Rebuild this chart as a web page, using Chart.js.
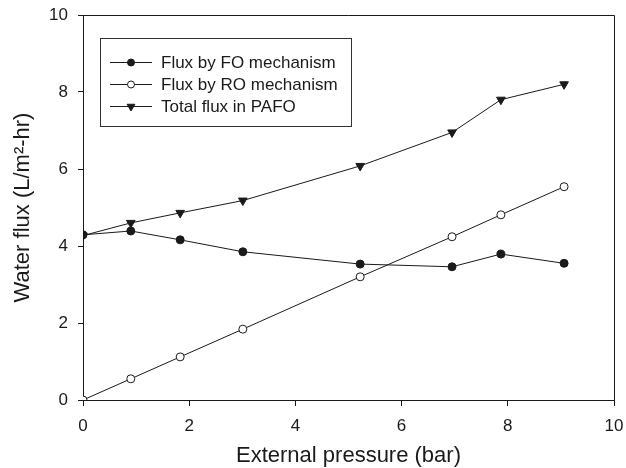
<!DOCTYPE html>
<html>
<head>
<meta charset="utf-8">
<script src="https://cdn.jsdelivr.net/npm/chart.js@4.4.1/dist/chart.umd.min.js"></script>
<style>
  html, body { margin: 0; padding: 0; background: #fff; }
  #wrap { width: 626px; height: 468px; }
</style>
</head>
<body>
<div id="wrap"><canvas id="myChart" width="626" height="468"></canvas></div>
<script>
// pressure (bar) for every series
const pressure = [0, 0.9, 1.83, 3.01, 5.22, 6.95, 7.87, 9.06];
const fluxFO = [4.29, 4.39, 4.16, 3.85, 3.53, 3.46, 3.79, 3.55];
const fluxRO = [0, 0.55, 1.12, 1.84, 3.2, 4.24, 4.81, 5.54];
const fluxTotal = [4.27, 4.6, 4.86, 5.18, 6.08, 6.95, 7.8, 8.2];
const seriesLabels = ['Flux by FO mechanism', 'Flux by RO mechanism', 'Total flux in PAFO'];
const xTicks = [0, 2, 4, 6, 8, 10];
const yTicks = [0, 2, 4, 6, 8, 10];

const ink = '#1a1a1a';
const font = '"Liberation Sans", Arial, Helvetica, sans-serif';

function toPoints(ys) {
    return pressure.map((x, i) => ({ x: x, y: ys[i] }));
}

// frame on top/right + boxed legend
const framePlugin = {
    id: 'frame',
    afterDraw(chart) {
        const ctx = chart.ctx;
        const a = chart.chartArea;
        ctx.save();
        ctx.strokeStyle = ink;
        ctx.lineWidth = 1;
        ctx.beginPath();
        ctx.moveTo(a.left, a.top + 0.5);
        ctx.lineTo(a.right + 0.5, a.top + 0.5);
        ctx.lineTo(a.right + 0.5, a.bottom);
        ctx.stroke();

        // legend box
        ctx.strokeStyle = '#333';
        ctx.strokeRect(100.5, 38.5, 251, 88);
        ctx.font = '17px ' + font;
        ctx.textBaseline = 'middle';
        const rows = [62, 84, 106];
        chart.data.datasets.forEach((ds, i) => {
            const y = rows[i] + 0.5;
            ctx.strokeStyle = ink;
            ctx.lineWidth = 1;
            ctx.beginPath();
            ctx.moveTo(110, y);
            ctx.lineTo(152, y);
            ctx.stroke();
            ctx.fillStyle = ds.pointBackgroundColor;
            Chart.helpers.drawPoint(ctx, {
                pointStyle: ds.pointStyle,
                rotation: ds.pointRotation || 0,
                radius: ds.pointStyle === 'circle' ? 3.5 : 4.5,
                borderWidth: 1
            }, 131, y);
            ctx.fillStyle = ink;
            ctx.fillText(ds.label, 161, y + 1);
        });
        ctx.restore();
    }
};

const ctx = document.getElementById('myChart').getContext('2d');
const myChart = new Chart(ctx, {
    type: 'scatter',
    data: {
        datasets: [{
            label: seriesLabels[0],
            data: toPoints(fluxFO),
            showLine: true,
            borderColor: ink,
            borderWidth: 1,
            pointStyle: 'circle',
            pointRadius: 4,
            pointBackgroundColor: ink,
            pointBorderColor: ink
        }, {
            label: seriesLabels[1],
            data: toPoints(fluxRO),
            showLine: true,
            borderColor: ink,
            borderWidth: 1,
            pointStyle: 'circle',
            pointRadius: 4,
            pointBackgroundColor: '#fff',
            pointBorderColor: ink
        }, {
            label: seriesLabels[2],
            data: toPoints(fluxTotal),
            showLine: true,
            borderColor: ink,
            borderWidth: 1,
            pointStyle: 'triangle',
            pointRotation: 180,
            pointRadius: 5,
            pointBackgroundColor: ink,
            pointBorderColor: ink
        }]
    },
    options: {
        responsive: false,
        animation: false,
        devicePixelRatio: 1,
        layout: { padding: { left: 0, top: 15, right: 12, bottom: 0 } },
        plugins: {
            legend: { display: false },
            tooltip: { enabled: false }
        },
        scales: {
            x: {
                type: 'linear',
                min: 0,
                max: 10,
                afterFit: s => { s.height = 68; s.paddingLeft = 0; s.paddingRight = 0; },
                afterBuildTicks: s => { s.ticks = xTicks.map(v => ({ value: v })); },
                grid: { display: true, drawOnChartArea: false, drawTicks: true, tickLength: 6, color: ink },
                border: { display: true, color: ink, width: 1 },
                ticks: { color: ink, font: { family: font, size: 17 }, padding: 10, maxRotation: 0 },
                title: { display: true, text: 'External pressure (bar)', color: ink, font: { family: font, size: 22 }, padding: { top: 0, bottom: -1 } }
            },
            y: {
                min: 0,
                max: 10,
                afterFit: s => { s.width = 83; s.paddingTop = 0; s.paddingBottom = 0; },
                afterBuildTicks: s => { s.ticks = yTicks.map(v => ({ value: v })); },
                grid: { display: true, drawOnChartArea: false, drawTicks: true, tickLength: 5, color: ink },
                border: { display: true, color: ink, width: 1 },
                ticks: { color: ink, font: { family: font, size: 17 }, padding: 10 },
                title: { display: true, text: 'Water flux (L/m²-hr)', color: ink, font: { family: font, size: 22 }, padding: { top: 10, bottom: 0 } }
            }
        }
    },
    plugins: [framePlugin]
});
</script>
</body>
</html>
